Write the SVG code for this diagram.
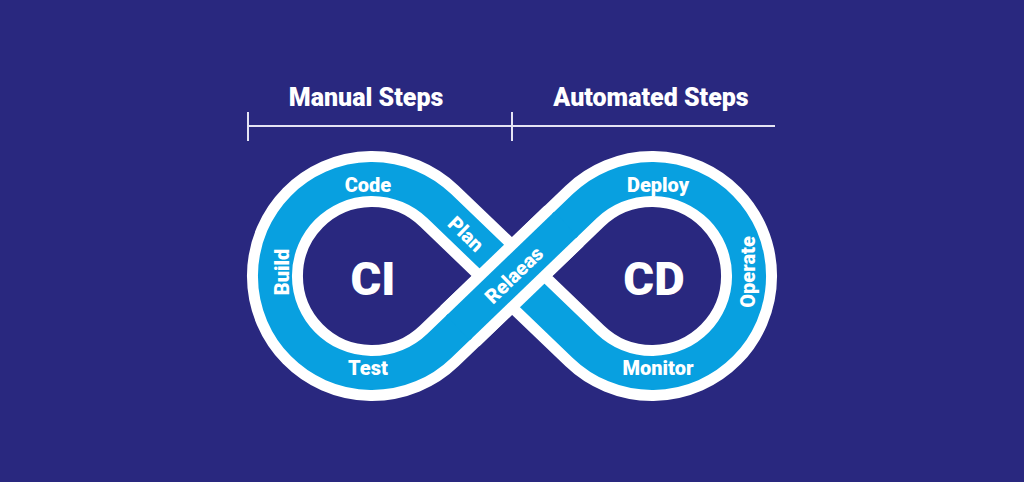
<svg xmlns="http://www.w3.org/2000/svg" width="1024" height="482" viewBox="0 0 1024 482">
  <style>
    .band-w { fill: none; stroke: #ffffff; stroke-width: 56; }
    .band-b { fill: none; stroke: #08a0e0; stroke-width: 34; }
    .lbl { font-family: Roboto, "Liberation Sans", sans-serif; font-weight: 900; font-size: 20px; fill: #ffffff; text-anchor: middle; }
    .big { font-family: Roboto, "Liberation Sans", sans-serif; font-weight: 900; font-size: 47px; fill: #ffffff; text-anchor: middle; }
    .head { font-family: Roboto, "Liberation Sans", sans-serif; font-weight: 900; font-size: 25px; fill: #ffffff; text-anchor: middle; }
    .rule { stroke: #e4e4f4; stroke-width: 2; fill: none; }
  </style>
  <rect width="1024" height="482" fill="#29287f"/>

  <g id="header">
    <text class="head" x="366" y="106">Manual Steps</text>
    <text class="head" x="651" y="106">Automated Steps</text>
    <line class="rule" x1="248" y1="126" x2="775" y2="126"/>
    <line class="rule" x1="248" y1="112" x2="248" y2="141"/>
    <line class="rule" x1="512" y1="112" x2="512" y2="141"/>
  </g>

  <g id="connectors">
    <path id="loop" class="band-w" d="M 439.2 206.1 L 584.8 345.9 A 97 97 0 1 0 584.8 206.1 L 439.2 345.9 A 97 97 0 1 1 439.2 206.1 Z"/>
    <path class="band-b" d="M 439.2 206.1 L 584.8 345.9 A 97 97 0 1 0 584.8 206.1 L 439.2 345.9 A 97 97 0 1 1 439.2 206.1 Z"/>
    <path class="band-w" d="M 460 326 L 564 226"/>
    <path class="band-b" d="M 458 328 L 566 224"/>
  </g>

  <g id="ci">
    <text class="big" x="373" y="295">CI</text>
    <text class="lbl" x="368" y="192">Code</text>
    <text class="lbl" x="368" y="375">Test</text>
    <text class="lbl" transform="translate(282,272) rotate(-90)" x="0" y="7">Build</text>
    <text class="lbl" transform="translate(466,234) rotate(44)" x="0" y="7">Plan</text>
  </g>

  <g id="release">
    <text class="lbl" transform="translate(514,275) rotate(-44)" x="0" y="7">Relaeas</text>
  </g>

  <g id="cd">
    <text class="big" x="654" y="295">CD</text>
    <text class="lbl" x="658" y="192">Deploy</text>
    <text class="lbl" x="658" y="375">Monitor</text>
    <text class="lbl" transform="translate(748,272) rotate(-90)" x="0" y="7">Operate</text>
  </g>
</svg>
